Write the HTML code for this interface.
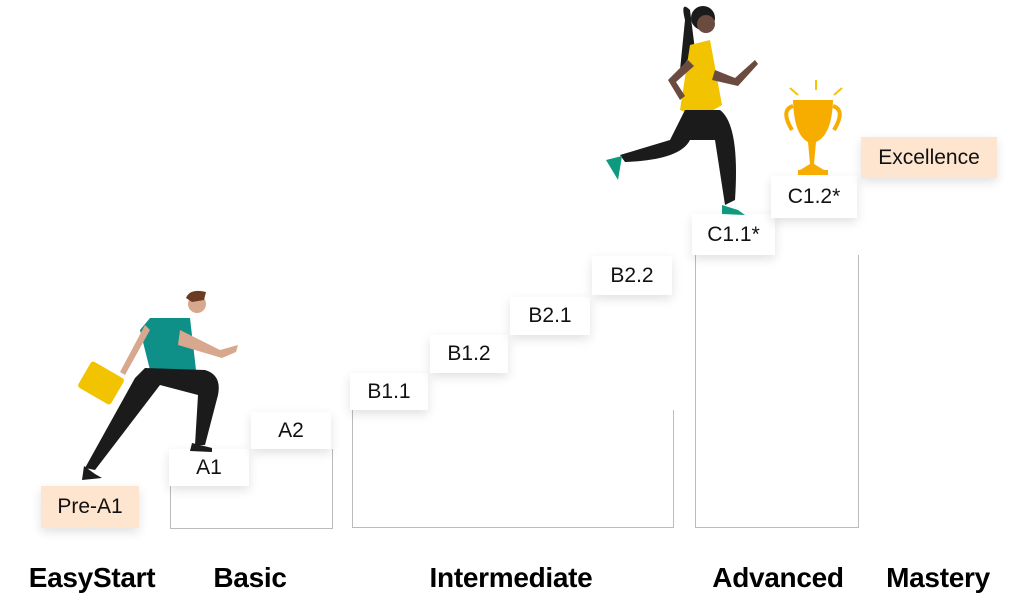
<!DOCTYPE html>
<html><head><style>
body{margin:0;width:1024px;height:616px;background:#fff;position:relative;overflow:hidden;font-family:"Liberation Sans",sans-serif}
.b{position:absolute;background:#fff;box-shadow:0 4px 10px rgba(0,0,0,0.12);font-size:21px;color:#111;display:flex;align-items:center;justify-content:center}
.p{background:#fde5cf}
.o{position:absolute;border:1px solid #bbb;border-top:none}
.l{position:absolute;top:562px;font-size:28px;font-weight:bold;color:#000;transform:translateX(-50%);white-space:nowrap;letter-spacing:-0.3px}
</style></head><body>
<div class="o" style="left:170px;top:449px;width:161px;height:79px"></div>
<div class="o" style="left:352px;top:410px;width:320px;height:117px"></div>
<div class="o" style="left:695px;top:255px;width:162px;height:272px"></div>

<div class="b p" style="left:41px;top:486px;width:98px;height:42px">Pre-A1</div>
<div class="b" style="left:169px;top:449px;width:80px;height:37px">A1</div>
<div class="b" style="left:251px;top:412px;width:80px;height:37px">A2</div>
<div class="b" style="left:350px;top:373px;width:78px;height:37px">B1.1</div>
<div class="b" style="left:430px;top:335px;width:78px;height:38px">B1.2</div>
<div class="b" style="left:510px;top:297px;width:80px;height:38px">B2.1</div>
<div class="b" style="left:592px;top:256px;width:80px;height:39px">B2.2</div>
<div class="b" style="left:692px;top:214px;width:83px;height:41px">C1.1*</div>
<div class="b" style="left:771px;top:176px;width:86px;height:42px">C1.2*</div>
<div class="b p" style="left:861px;top:137px;width:136px;height:41px">Excellence</div>

<div class="l" style="left:92px">EasyStart</div>
<div class="l" style="left:250px">Basic</div>
<div class="l" style="left:511px">Intermediate</div>
<div class="l" style="left:778px">Advanced</div>
<div class="l" style="left:938px">Mastery</div>

<svg width="1024" height="616" style="position:absolute;left:0;top:0">
<path d="M150 370 L140 330 L150 318 L190 318 L196 370 Z" fill="#0e8f88"/>
<path d="M180 330 L220 350 L238 345 L236 352 L222 358 L178 345Z" fill="#d7a88e"/>
<path d="M150 330 L125 375 L120 372 L145 325Z" fill="#d7a88e"/>
<circle cx="197" cy="304" r="9" fill="#d7a88e"/>
<path d="M186 298 Q190 288 206 292 L204 300 L192 302Z" fill="#6b3b22"/>
<rect x="82" y="368" width="38" height="30" rx="3" fill="#f2c300" transform="rotate(30 101 383)"/>
<path d="M145 368 L205 370 Q222 375 218 395 L205 445 L195 445 L198 395 L160 385 L95 470 L85 468 L135 378Z" fill="#1b1b1b"/>
<path d="M192 443 L212 448 L212 452 L190 451Z" fill="#1b1b1b"/>
<path d="M84 466 L95 474 L102 478 L82 480Z" fill="#1b1b1b"/>
<path d="M690 10 Q680 0 685 20 L680 70 L695 50Z" fill="#1b1b1b"/>
<circle cx="703" cy="18" r="12" fill="#1b1b1b"/>
<circle cx="706" cy="24" r="9" fill="#6b4a3f"/>
<path d="M690 45 L710 40 L722 105 L700 118 L680 110Z" fill="#f2c300"/>
<path d="M685 110 L720 110 Q740 125 735 200 L725 205 L715 140 L690 140 Q680 160 625 162 L620 155 L670 140Z" fill="#1b1b1b"/>
<path d="M606 160 L622 156 L618 180 Z" fill="#0e9a7e"/>
<path d="M722 205 L738 210 L745 215 L722 214Z" fill="#0e9a7e"/>
<path d="M688 60 L668 80 L680 100 L685 96 L676 82 L694 66Z" fill="#6b4a3f"/>
<path d="M715 70 L735 78 L755 60 L758 64 L738 86 L712 80Z" fill="#6b4a3f"/>
<path d="M793 100 L833 100 Q832 135 816 142 L814 164 L824 170 L800 170 L810 164 L808 142 Q794 135 793 100Z" fill="#f6ad00"/>
<rect x="798" y="170" width="30" height="5" fill="#f6ad00"/>
<path d="M793 106 Q780 110 792 130 M833 106 Q846 110 834 130" stroke="#f6ad00" stroke-width="4" fill="none"/>
<path d="M816 80 L816 90 M790 88 L798 95 M842 88 L834 95" stroke="#f6c400" stroke-width="2"/>
</svg>
</body></html>
